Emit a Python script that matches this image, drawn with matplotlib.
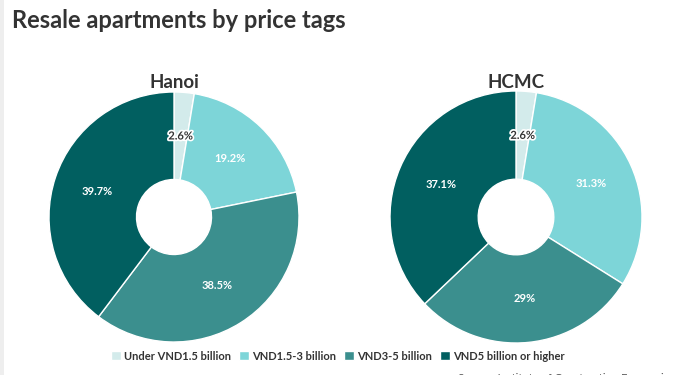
import matplotlib.pyplot as plt
import matplotlib.patheffects as pe
import numpy as np

plt.rcParams['font.family'] = ['Lato', 'DejaVu Sans']

# data
categories = ['Under VND1.5 billion', 'VND1.5-3 billion', 'VND3-5 billion', 'VND5 billion or higher']
colors = ['#d3ebeb', '#7dd5d8', '#3b8f8e', '#015f60']
hanoi = [2.6, 19.2, 38.5, 39.7]
hanoi_labels = ['2.6%', '19.2%', '38.5%', '39.7%']
hcmc = [2.6, 31.3, 29, 37.1]
hcmc_labels = ['2.6%', '31.3%', '29%', '37.1%']

W, H = 680, 375
fig = plt.figure(figsize=(W / 100, H / 100), dpi=100)
fig.patch.set_facecolor('white')

# thin grey strip at the left edge
fig.add_artist(plt.Rectangle((0, 0), 4 / W, 1, transform=fig.transFigure,
                             color='#eeeeee', lw=0))

fig.text(12 / W, 1 - 21 / H, 'Resale apartments by price tags', fontsize=17,
         fontweight='bold', color='#333333', va='center', ha='left')


def donut(cx, cy, r, values, labels, title):
    ax = fig.add_axes([(cx - r) / W, 1 - (cy + r) / H, 2 * r / W, 2 * r / H])
    wedges, _ = ax.pie(values, colors=colors, startangle=90, counterclock=False,
                       radius=1, wedgeprops=dict(width=0.7, edgecolor='white', linewidth=1))
    for w, lab in zip(wedges, labels):
        ang = np.deg2rad((w.theta1 + w.theta2) / 2)
        x, y = 0.65 * np.cos(ang), 0.65 * np.sin(ang)
        if w.get_facecolor()[0] > 0.7:
            ax.text(x, y, lab, ha='center', va='center', fontsize=8, fontweight='bold',
                    color='#333333',
                    path_effects=[pe.withStroke(linewidth=2.5, foreground='white')])
        else:
            ax.text(x, y, lab, ha='center', va='center', fontsize=8, fontweight='bold',
                    color='white')
    ax.set_xlim(-1, 1)
    ax.set_ylim(-1, 1)
    ax.set_aspect('equal')
    ax.axis('off')
    fig.text(cx / W, 1 - 82 / H, title, ha='center', va='center', fontsize=13.5,
             fontweight='bold', color='#333333')
    return wedges


wedges = donut(174, 217, 125, hanoi, hanoi_labels, 'Hanoi')
donut(516, 217, 126, hcmc, hcmc_labels, 'HCMC')

fig.legend(wedges, categories, loc='center', bbox_to_anchor=(338 / W, 1 - 356 / H),
           ncol=4, frameon=False, handlelength=0.9, handleheight=0.9,
           handletextpad=0.3, columnspacing=0.7, prop={'weight': 'bold', 'size': 8},
           labelcolor='#333333')

fig.text(458 / W, 1 - 378 / H, 'Source: Institute of Construction Economics',
         ha='left', va='center', fontsize=8, color='#555555')

fig.savefig('out.png', dpi=100, facecolor='white')
